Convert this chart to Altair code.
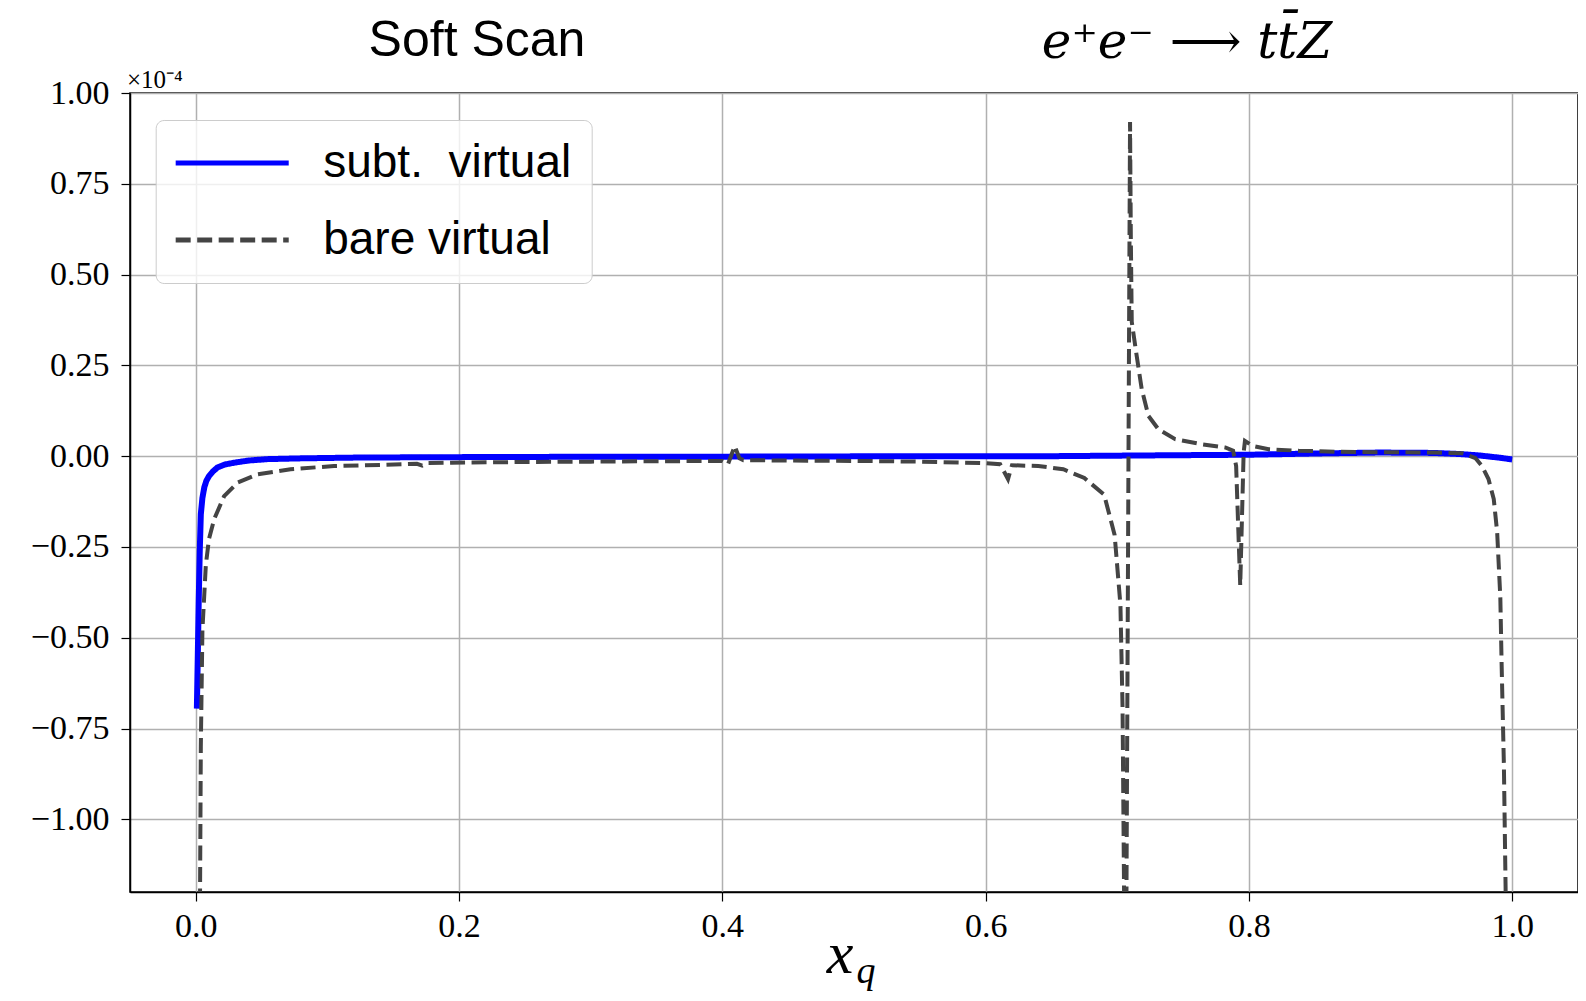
import altair as alt
import pandas as pd

# ---- data (values in units of 1e-4) ----
sub_x = [0.0008, 0.0015, 0.0022, 0.003, 0.0038, 0.005, 0.0065, 0.008, 0.010, 0.013,
         0.0165, 0.022, 0.029, 0.04, 0.055, 0.08, 0.118, 0.17, 0.25, 0.35,
         0.45, 0.55, 0.65, 0.72, 0.80, 0.86, 0.90, 0.94, 0.96, 0.975, 0.99, 1.0]
sub_y = [-0.695, -0.55, -0.40, -0.26, -0.16, -0.115, -0.085, -0.068, -0.055, -0.042,
         -0.031, -0.023, -0.018, -0.012, -0.008, -0.006, -0.004, -0.003, -0.002, -0.0015,
         -0.001, 0.0, 0.0, 0.002, 0.004, 0.008, 0.010, 0.009, 0.006, 0.002, -0.004, -0.009]

bare_x = [0.0030, 0.0038, 0.005, 0.0076, 0.010, 0.014, 0.0215, 0.032, 0.047, 0.072,
          0.105, 0.14, 0.168, 0.172, 0.176, 0.194, 0.25, 0.30, 0.35, 0.40,
          0.4043, 0.4094, 0.413, 0.416, 0.45, 0.50, 0.55, 0.60, 0.611, 0.617,
          0.620, 0.64, 0.659, 0.675, 0.69, 0.698, 0.7024, 0.704, 0.7055, 0.7068,
          0.7097, 0.7103, 0.7110, 0.7148, 0.7186, 0.7237, 0.7313, 0.744, 0.764, 0.782,
          0.788, 0.7903, 0.7934, 0.796, 0.797, 0.803, 0.815, 0.838, 0.87, 0.90,
          0.94, 0.962, 0.972, 0.977, 0.982, 0.986, 0.9886, 0.991, 0.992, 0.9937,
          0.995, 0.9955]
bare_y = [-1.35, -0.80, -0.48, -0.30, -0.228, -0.173, -0.11, -0.072, -0.05, -0.036,
          -0.027, -0.024, -0.021, -0.026, -0.019, -0.018, -0.016, -0.015, -0.014, -0.013,
          -0.022, 0.028, -0.006, -0.011, -0.012, -0.013, -0.015, -0.019, -0.022, -0.063,
          -0.025, -0.027, -0.036, -0.06, -0.106, -0.217, -0.41, -0.69, -1.35, -1.35,
          0.92, 0.60, 0.37, 0.275, 0.184, 0.111, 0.074, 0.047, 0.033, 0.024,
          0.015, -0.027, -0.356, 0.010, 0.042, 0.028, 0.019, 0.015, 0.012, 0.011,
          0.010, 0.008, -0.005, -0.027, -0.063, -0.118, -0.21, -0.39, -0.576, -0.85,
          -1.19, -1.35]

series_names = ["subt.\u00a0 virtual", "bare virtual"]
series_colors = ["#0000ff", "#444444"]
series_dashes = [[1, 0], [15, 6.5]]

x_ticks = [0.0, 0.2, 0.4, 0.6, 0.8, 1.0]
y_ticks = [-1.0, -0.75, -0.5, -0.25, 0.0, 0.25, 0.5, 0.75, 1.0]

df_sub = pd.DataFrame({"x": sub_x, "y": sub_y, "series": series_names[0],
                       "order": list(range(len(sub_x)))})
df_bare = pd.DataFrame({"x": bare_x, "y": bare_y, "series": series_names[1],
                        "order": list(range(len(bare_x)))})

legend = alt.Legend(
    title=None, orient="none", legendX=25.7, legendY=27,
    padding=20, rowPadding=31,
    symbolType="M-3.14,0H3.14", symbolSize=1296, symbolStrokeWidth=5,
    symbolOffset=33.5, labelOffset=68,
    labelFont="Liberation Sans", labelFontSize=46, labelColor="black", labelLimit=0,
    fillColor="rgba(255,255,255,0.8)", strokeColor="#cccccc", cornerRadius=8,
)

axis_common = dict(title=None, labelFont="Liberation Serif", labelFontSize=34,
                   labelColor="black", labelFlush=False,
                   tickSize=9, tickColor="black", tickWidth=1.2,
                   domainColor="black", domainWidth=1.5,
                   gridColor="#b0b0b0", gridWidth=1.5)

x_enc = alt.X("x:Q", scale=alt.Scale(domain=[-0.05, 1.05], nice=False, zero=False),
              axis=alt.Axis(values=x_ticks, format=".1f", labelPadding=8, **axis_common))
y_enc = alt.Y("y:Q", scale=alt.Scale(domain=[-1.2, 1.0], nice=False, zero=False),
              axis=alt.Axis(values=y_ticks, format=".2f", labelPadding=12, **axis_common))
color_enc = alt.Color("series:N", scale=alt.Scale(domain=series_names, range=series_colors),
                      legend=legend)
dash_enc = alt.StrokeDash("series:N", scale=alt.Scale(domain=series_names, range=series_dashes),
                          legend=legend)

line_sub = alt.Chart(df_sub).mark_line(strokeWidth=6, clip=True).encode(
    x=x_enc, y=y_enc, color=color_enc, strokeDash=dash_enc, order="order:Q")
line_bare = alt.Chart(df_bare).mark_line(strokeWidth=4, clip=True).encode(
    x=x_enc, y=y_enc, color=color_enc, strokeDash=dash_enc, order="order:Q")

one = pd.DataFrame({"a": [0]})


def txt(s, x, y, size, font="Liberation Serif", style="normal", align="center"):
    return alt.Chart(one).mark_text(
        text=s, font=font, fontStyle=style, fontSize=size, align=align,
        baseline="alphabetic", color="black").encode(x=alt.value(x), y=alt.value(y))


texts = [
    txt("Soft Scan", 347, -37, 50, font="Liberation Sans"),
    txt("e\u207ae\u207b \u27f6 tt\u0304Z", 1057, -35, 50, font="DejaVu Serif", style="italic"),
    txt("\u00d710\u207b\u2074", -3, -5, 25, align="left"),
    txt("x", 710, 880, 60, style="italic"),
    txt("q", 736, 890, 38, style="italic"),
]

chart = alt.layer(line_sub, line_bare, *texts).properties(
    width=1448, height=799,
    autosize=alt.AutoSizeParams(type="none"),
    padding={"left": 122, "top": 85, "right": 0, "bottom": 101},
    background="white",
).configure_view(stroke="black", strokeWidth=1.5)

chart.save("out.html", embed_options={"renderer": "svg", "actions": False})
